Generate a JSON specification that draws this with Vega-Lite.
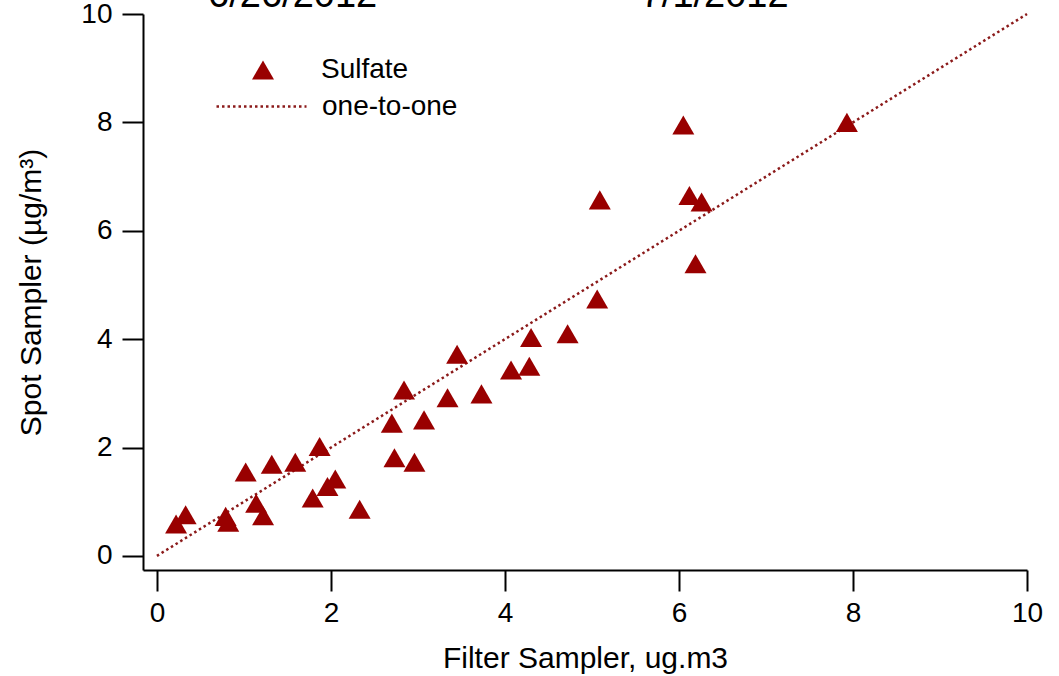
{
  "$schema": "https://vega.github.io/schema/vega-lite/v6.json",
  "width": 884,
  "height": 556,
  "autosize": {"type": "none"},
  "padding": {"left": 143, "top": 14, "right": 32, "bottom": 106},
  "background": "white",
  "config": {
    "font": "Liberation Sans",
    "view": {"stroke": null},
    "axis": {
      "grid": false,
      "domainColor": "black",
      "domainWidth": 2,
      "tickColor": "black",
      "tickWidth": 2,
      "tickSize": 21,
      "labelColor": "black",
      "labelFontSize": 28,
      "titleColor": "black",
      "titleFontSize": 30,
      "titleFontWeight": "normal",
      "labelFlush": false,
      "labelOverlap": false,
      "format": "d"
    }
  },
  "datasets": {
    "points": [
      {"filter": 0.22, "spot": 0.59, "series": "Sulfate"},
      {"filter": 0.33, "spot": 0.76, "series": "Sulfate"},
      {"filter": 0.79, "spot": 0.73, "series": "Sulfate"},
      {"filter": 0.82, "spot": 0.62, "series": "Sulfate"},
      {"filter": 1.02, "spot": 1.55, "series": "Sulfate"},
      {"filter": 1.14, "spot": 0.97, "series": "Sulfate"},
      {"filter": 1.22, "spot": 0.74, "series": "Sulfate"},
      {"filter": 1.32, "spot": 1.69, "series": "Sulfate"},
      {"filter": 1.59, "spot": 1.73, "series": "Sulfate"},
      {"filter": 1.79, "spot": 1.07, "series": "Sulfate"},
      {"filter": 1.87, "spot": 2.02, "series": "Sulfate"},
      {"filter": 1.96, "spot": 1.28, "series": "Sulfate"},
      {"filter": 2.05, "spot": 1.42, "series": "Sulfate"},
      {"filter": 2.33, "spot": 0.86, "series": "Sulfate"},
      {"filter": 2.70, "spot": 2.45, "series": "Sulfate"},
      {"filter": 2.73, "spot": 1.81, "series": "Sulfate"},
      {"filter": 2.84, "spot": 3.06, "series": "Sulfate"},
      {"filter": 2.96, "spot": 1.73, "series": "Sulfate"},
      {"filter": 3.07, "spot": 2.51, "series": "Sulfate"},
      {"filter": 3.34, "spot": 2.92, "series": "Sulfate"},
      {"filter": 3.45, "spot": 3.72, "series": "Sulfate"},
      {"filter": 3.73, "spot": 2.99, "series": "Sulfate"},
      {"filter": 4.07, "spot": 3.43, "series": "Sulfate"},
      {"filter": 4.28, "spot": 3.50, "series": "Sulfate"},
      {"filter": 4.30, "spot": 4.03, "series": "Sulfate"},
      {"filter": 4.72, "spot": 4.10, "series": "Sulfate"},
      {"filter": 5.06, "spot": 4.74, "series": "Sulfate"},
      {"filter": 5.09, "spot": 6.57, "series": "Sulfate"},
      {"filter": 6.05, "spot": 7.95, "series": "Sulfate"},
      {"filter": 6.12, "spot": 6.65, "series": "Sulfate"},
      {"filter": 6.19, "spot": 5.39, "series": "Sulfate"},
      {"filter": 6.26, "spot": 6.53, "series": "Sulfate"},
      {"filter": 7.93, "spot": 8.00, "series": "Sulfate"}
    ],
    "oneToOne": [
      {"filter": 0, "spot": 0, "ref": "one-to-one"},
      {"filter": 10, "spot": 10, "ref": "one-to-one"}
    ],
    "dates": [
      {"filter": 1.56, "spot": 10.13, "label": "6/26/2012"},
      {"filter": 6.41, "spot": 10.13, "label": "7/1/2012"}
    ]
  },
  "layer": [
    {
      "data": {"name": "oneToOne"},
      "mark": {"type": "line", "color": "#8b1a1a", "strokeWidth": 2.5},
      "encoding": {
        "x": {
          "field": "filter", "type": "quantitative",
          "scale": {"domain": [-0.16, 10], "nice": false, "zero": false},
          "axis": {"values": [0, 2, 4, 6, 8, 10], "title": "Filter Sampler, ug.m3", "labelPadding": 8, "titlePadding": 16}
        },
        "y": {
          "field": "spot", "type": "quantitative",
          "scale": {"domain": [-0.26, 10], "nice": false, "zero": false},
          "axis": {"values": [0, 2, 4, 6, 8, 10], "title": "Spot Sampler (µg/m³)", "labelPadding": 10, "titlePadding": 34}
        },
        "strokeDash": {
          "field": "ref", "type": "nominal",
          "scale": {"range": [[2.5, 3]]},
          "legend": {
            "title": null, "orient": "none", "legendX": 72, "legendY": 46, "padding": 0,
            "symbolType": "stroke", "symbolSize": 8100, "symbolStrokeColor": "#8b1a1a",
            "symbolStrokeWidth": 2.5, "symbolDash": [2.5, 3],
            "labelFontSize": 28, "labelColor": "black", "labelOffset": 14
          }
        }
      }
    },
    {
      "data": {"name": "points"},
      "mark": {"type": "point", "filled": true, "color": "#990000", "opacity": 1, "size": 484},
      "encoding": {
        "x": {"field": "filter", "type": "quantitative"},
        "y": {"field": "spot", "type": "quantitative"},
        "shape": {
          "field": "series", "type": "nominal",
          "scale": {"range": ["triangle-up"]},
          "legend": {
            "title": null, "orient": "none", "legendX": 106, "legendY": 42, "padding": 0,
            "symbolType": "triangle-up", "symbolSize": 484, "symbolFillColor": "#990000",
            "symbolStrokeWidth": 0, "symbolOpacity": 1,
            "labelFontSize": 28, "labelColor": "black", "labelOffset": 44
          }
        }
      }
    },
    {
      "data": {"name": "dates"},
      "mark": {"type": "text", "fontSize": 38, "baseline": "alphabetic", "align": "center", "color": "black"},
      "encoding": {
        "x": {"field": "filter", "type": "quantitative"},
        "y": {"field": "spot", "type": "quantitative"},
        "text": {"field": "label"}
      }
    }
  ]
}
